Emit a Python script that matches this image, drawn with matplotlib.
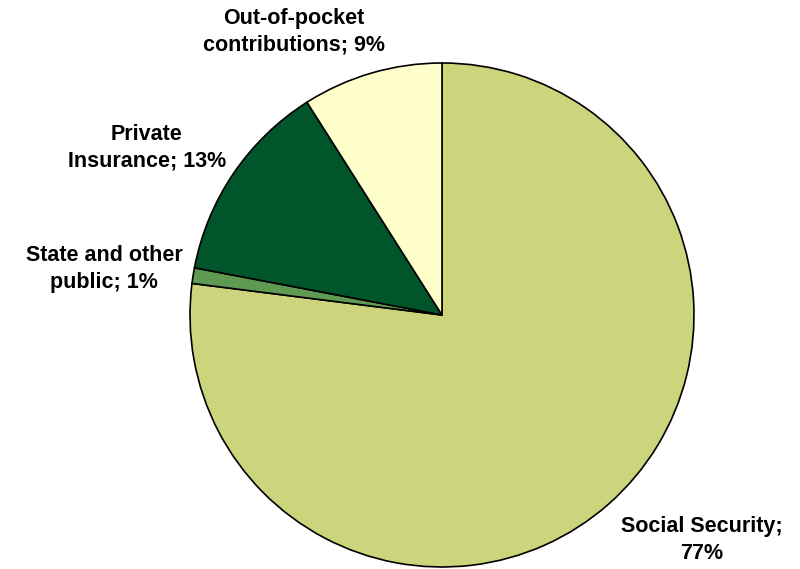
import matplotlib.pyplot as plt

labels = ["Social Security;\n77%", "State and other\npublic; 1%",
          "Private\nInsurance; 13%", "Out-of-pocket\ncontributions; 9%"]
shares = [77, 1, 13, 9]
colors = ["#CCD47C", "#5E9A52", "#00552B", "#FFFFCC"]

# label positions in pixel-like coordinates (origin bottom-left)
label_xy = [(702, 29), (104, 300), (147, 421), (294, 537)]

plt.rcParams['font.family'] = ['Liberation Sans', 'DejaVu Sans']

fig = plt.figure(figsize=(8, 5.69), dpi=100)
ax = fig.add_axes([0, 0, 1, 1])
ax.pie(shares, colors=colors, startangle=90, counterclock=False,
       center=(442, 254), radius=252,
       wedgeprops=dict(edgecolor="black", linewidth=1.2))
ax.set_xlim(0, 800)
ax.set_ylim(0, 569)
ax.set_aspect("equal")
ax.axis("off")

for text, (x, y) in zip(labels, label_xy):
    ax.text(x, y, text, ha="center", va="center", fontsize=15.5,
            fontweight="bold", linespacing=1.35)

fig.savefig("out.png", dpi=100)
